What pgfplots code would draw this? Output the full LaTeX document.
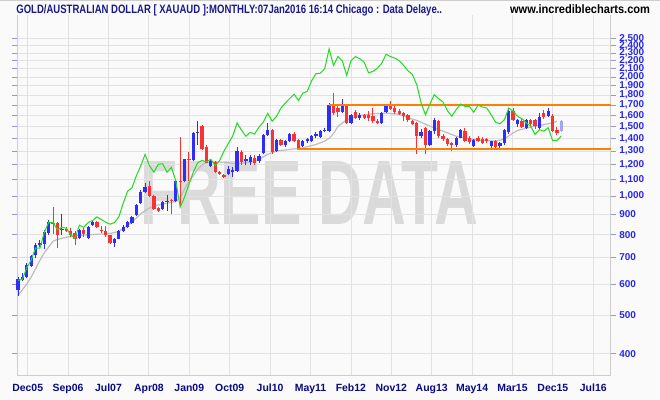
\documentclass[border=0pt]{standalone}
\usepackage{fontspec}
\setmainfont{Liberation Sans}
\usepackage{pgfplots}
\usepackage{pgfplotstable}
\pgfplotsset{compat=1.18}
\definecolor{cblue}{RGB}{45,45,255}
\definecolor{cred}{RGB}{250,50,50}
\definecolor{clight}{RGB}{165,165,245}
\definecolor{cgreen}{RGB}{30,220,30}
\definecolor{cma}{RGB}{190,190,190}
\definecolor{corange}{RGB}{255,128,0}
\definecolor{cgrid}{RGB}{226,226,226}
\definecolor{cframe}{RGB}{205,205,205}
\definecolor{ctick}{RGB}{40,40,235}
\definecolor{ctickmark}{RGB}{150,150,220}
\definecolor{cxlab}{RGB}{10,10,130}
\definecolor{ctitle}{RGB}{25,25,140}
\definecolor{cbg}{RGB}{250,250,250}
\definecolor{cwm}{RGB}{218,218,218}

% monthly candles: Sep05 = 0 ... Jan16 = 124
\pgfplotstableread{
n o h l c
0 579 625 559 617
1 613 639 610 625
2 626 680 620 671
3 668 712 662 706
4 709 760 700 752
5 752 775 745 760
6 759 820 735 812
7 808 870 800 860
8 858 937 805 850
9 858 862 740 797
10 822 900 797 828
11 826 835 810 819
12 819 830 790 800
13 808 815 752 779
14 783 826 778 822
15 822 830 790 805
16 783 840 778 836
17 847 870 843 862
18 862 868 830 835
19 822 840 808 815
20 815 840 790 797
21 797 800 758 762
22 762 785 746 780
23 780 824 778 819
24 817 845 810 835
25 837 868 830 860
26 858 892 852 884
27 895 955 890 950
28 962 1035 955 1026
29 1026 1080 1020 1053
30 1060 1095 995 1000
31 1000 1005 925 930
32 935 940 910 920
33 930 975 925 968
34 966 1010 920 972
35 978 985 903 970
36 974 1100 965 1094
37 1094 1412 940 1085
38 1094 1245 1085 1240
39 1245 1290 1094 1236
40 1238 1450 1230 1442
41 1445 1550 1350 1455
42 1503 1510 1310 1318
43 1330 1345 1210 1215
44 1193 1235 1185 1228
45 1220 1225 1145 1150
46 1150 1160 1130 1140
47 1130 1140 1112 1120
48 1135 1190 1130 1170
49 1150 1185 1120 1165
50 1160 1330 1150 1300
51 1290 1310 1200 1220
52 1225 1270 1200 1240
53 1220 1270 1200 1255
54 1250 1270 1200 1210
55 1228 1275 1215 1264
56 1285 1440 1275 1430
57 1430 1530 1420 1470
58 1470 1480 1280 1290
59 1300 1395 1290 1385
60 1385 1395 1340 1350
61 1350 1390 1335 1375
62 1378 1445 1370 1436
63 1436 1450 1370 1378
64 1385 1395 1305 1318
65 1339 1390 1330 1378
66 1378 1405 1360 1395
67 1378 1430 1370 1418
68 1418 1450 1400 1432
69 1410 1470 1400 1460
70 1460 1490 1450 1472
71 1460 1720 1450 1703
72 1703 1822 1600 1622
73 1675 1700 1590 1630
74 1630 1760 1620 1700
75 1690 1700 1520 1530
76 1530 1610 1520 1600
77 1630 1650 1565 1575
78 1575 1620 1560 1605
79 1600 1610 1565 1575
80 1600 1640 1550 1580
81 1592 1673 1530 1547
82 1553 1570 1520 1532
83 1532 1630 1525 1625
84 1630 1710 1620 1700
85 1700 1745 1650 1660
86 1670 1690 1610 1630
87 1640 1660 1600 1615
88 1625 1630 1547 1595
89 1602 1610 1540 1555
90 1547 1560 1515 1524
91 1532 1540 1276 1418
92 1420 1480 1400 1450
93 1490 1500 1276 1350
94 1350 1470 1340 1460
95 1460 1580 1440 1555
96 1547 1560 1400 1418
97 1422 1440 1380 1392
98 1392 1400 1340 1355
99 1360 1370 1300 1348
100 1348 1410 1330 1405
101 1405 1480 1400 1470
102 1460 1490 1370 1378
103 1400 1420 1355 1370
104 1340 1395 1330 1385
105 1405 1420 1370 1378
106 1395 1410 1355 1365
107 1395 1405 1365 1375
108 1339 1380 1325 1375
109 1378 1390 1320 1330
110 1339 1370 1310 1360
111 1360 1480 1350 1470
112 1450 1665 1440 1645
113 1645 1670 1550 1562
114 1520 1570 1500 1560
115 1547 1570 1490 1497
116 1490 1565 1480 1555
117 1555 1570 1500 1520
118 1555 1565 1480 1503
119 1490 1620 1480 1585
120 1620 1650 1570 1585
121 1595 1670 1590 1645
122 1595 1610 1450 1460
123 1470 1500 1430 1448
124 1460 1555 1455 1547
}\candles

\pgfplotstableread{
n v
0 613
1 617
2 660
3 690
4 740
5 740
6 810
7 860
8 858
9 822
10 835
11 830
12 800
13 783
14 845
15 835
16 858
17 868
18 887
19 873
20 860
21 850
22 858
23 887
24 960
25 1030
26 1050
27 1126
28 1193
29 1276
30 1193
31 1150
32 1204
33 1208
34 1150
35 1183
36 1094
37 938
38 995
39 1072
40 1150
41 1215
42 1232
43 1220
44 1240
45 1195
46 1230
47 1300
48 1360
49 1420
50 1532
51 1469
52 1418
53 1450
54 1436
55 1495
56 1540
57 1620
58 1547
59 1592
60 1670
61 1720
62 1765
63 1810
64 1745
65 1822
66 1840
67 1957
68 2040
69 2045
70 2100
71 2355
72 2140
73 2253
74 2200
75 2020
76 2200
77 2253
78 2225
79 2180
80 2050
81 2066
82 2106
83 2165
84 2283
85 2253
86 2233
87 2200
88 2140
89 2075
90 2030
91 1913
92 1720
93 1605
94 1710
95 1805
96 1763
97 1730
98 1645
99 1592
100 1655
101 1710
102 1687
103 1687
104 1630
105 1700
106 1680
107 1670
108 1605
109 1538
110 1524
111 1560
112 1670
113 1640
114 1592
115 1570
116 1532
117 1503
118 1432
119 1473
120 1460
121 1490
122 1383
123 1383
124 1420
}\green

\pgfplotstableread{
n v
0 562
2 600
3 625
4 656
5 689
6 720
7 745
8 770
9 778
11 788
13 795
17 800
21 805
23 815
25 845
27 880
28 903
30 935
31 945
33 955
36 970
37 990
38 1043
39 1090
40 1126
41 1170
42 1200
43 1215
45 1222
48 1215
50 1205
53 1220
55 1240
57 1276
59 1301
62 1313
65 1325
68 1351
70 1378
71 1400
72 1440
73 1500
75 1560
78 1600
81 1615
84 1622
87 1610
90 1565
91 1555
94 1503
97 1460
100 1418
103 1399
106 1383
109 1378
110 1385
111 1397
112 1420
113 1445
114 1466
117 1495
120 1516
122 1532
123 1547
}\mavg

\begin{document}
\begin{tikzpicture}
\fill[cbg] (0bp,0bp) rectangle (660bp,400bp);
\draw[cframe] (0bp,399.5bp) -- (660bp,399.5bp);
\node[anchor=base west, inner sep=0pt, text=ctitle] at (16bp,386.5bp)
  {\resizebox{426bp}{8.8bp}{\bfseries GOLD/AUSTRALIAN DOLLAR [ XAUAUD ]:MONTHLY:07Jan2016 16:14 Chicago : Data Delaye..}};
\node[anchor=base west, inner sep=0pt, text=black] at (510bp,386.5bp)
  {\resizebox{140bp}{8.8bp}{\bfseries www.incrediblecharts.com}};
\node[inner sep=0pt, text=cwm] at (309bp,207bp)
  {\resizebox{338bp}{63bp}{\bfseries FREE DATA}};
\begin{axis}[
  at={(17bp,24bp)}, anchor=south west,
  scale only axis, width=594bp, height=361bp,
  xmin=-0.2, xmax=135.3,
  ymode=log, ymin=352, ymax=2870,
  clip=false,
  axis line style={draw=none},
  grid=major,
  major grid style={cgrid, line width=0.8bp},
  xtick={2.2,11.42,20.64,29.86,39.08,48.31,57.53,66.75,75.97,85.19,94.41,103.63,112.85,122.07,131.29},
  xticklabels={Dec05,Sep06,Jul07,Apr08,Jan09,Oct09,Jul10,May11,Feb12,Nov12,Aug13,May14,Mar15,Dec15,Jul16},
  xtick style={draw=none},
  xticklabel style={font=\fontsize{10.5}{12}\selectfont\bfseries, text=cxlab},
  ytick={400,500,600,700,800,900,1000,1100,1200,1300,1400,1500,1600,1700,1800,1900,2000,2100,2200,2300,2400,2500},
  yticklabels={400,500,600,700,800,900,{1,000},{1,100},{1,200},{1,300},{1,400},{1,500},{1,600},{1,700},{1,800},{1,900},{2,000},{2,100},{2,200},{2,300},{2,400},{2,500}},
  yticklabel pos=right,
  ytick style={ctickmark, line width=0.8bp},
  tick align=outside, major tick length=5bp,
  yticklabel style={font=\fontsize{10}{12}\selectfont\bfseries, text=ctick},
]
\draw[cframe, line width=0.8bp] (rel axis cs:0,1) -- (rel axis cs:0,0) -- (rel axis cs:1,0) -- (rel axis cs:1,1);
\addplot[cma, line width=1.2bp, forget plot] table[x=n, y=v] {\mavg};
\pgfplotsforeachungrouped \i in {0,...,124}{%
  \pgfplotstablegetelem{\i}{n}\of\candles \let\vN\pgfplotsretval
  \pgfplotstablegetelem{\i}{o}\of\candles \let\vO\pgfplotsretval
  \pgfplotstablegetelem{\i}{h}\of\candles \let\vH\pgfplotsretval
  \pgfplotstablegetelem{\i}{l}\of\candles \let\vL\pgfplotsretval
  \pgfplotstablegetelem{\i}{c}\of\candles \let\vC\pgfplotsretval
  \ifdim\vC pt<\vO pt \def\ccol{cred}\else\def\ccol{cblue}\fi
  \ifnum\i=124 \def\ccol{clight}\fi
  \edef\temp{\noexpand\addplot[forget plot, \ccol, line width=1bp] coordinates {(\vN,\vL) (\vN,\vH)};
    \noexpand\addplot[forget plot, \ccol, line width=3.3bp] coordinates {(\vN,\vO) (\vN,\vC)};}%
  \temp
}
\addplot[corange, line width=1.6bp, forget plot] coordinates {(71,1700) (135.3,1700)};
\addplot[corange, line width=1.6bp, forget plot] coordinates {(63.7,1315) (135.3,1315)};
\addplot[cgreen, line width=1bp, forget plot] table[x=n, y=v] {\green};
\end{axis}
\end{tikzpicture}
\end{document}
